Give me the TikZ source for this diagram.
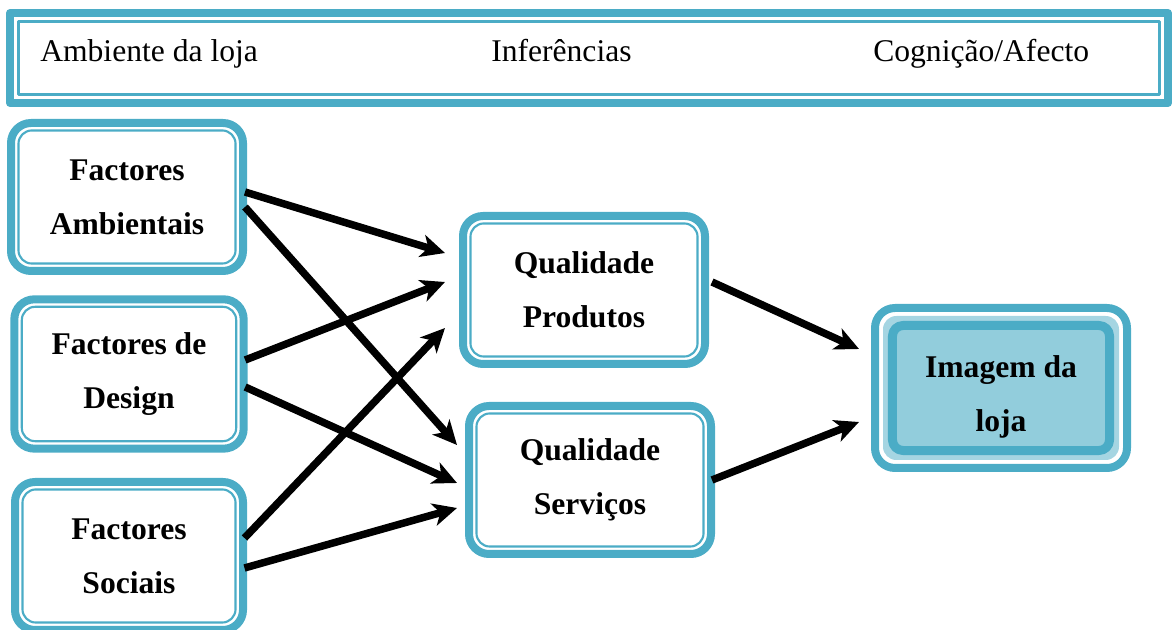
\documentclass[tikz,border=0pt]{standalone}
\usepackage{fontspec}
\setmainfont{Liberation Serif}
\usetikzlibrary{arrows.meta,calc}
\definecolor{frame}{RGB}{75,172,198}
\definecolor{lightfill}{RGB}{146,205,220}
\definecolor{ring}{RGB}{165,213,226}

\begin{document}
\begin{tikzpicture}[x=0.75pt,y=-0.75pt,join=round, % store image model
        box/.style={draw=frame,line width=6pt,rounded corners=15pt,outer sep=0pt,align=center,
                font=\fontsize{23.7}{40.5}\selectfont\bfseries,
                path picture={\draw[frame,line width=1.6pt,rounded corners=10pt]
                        ([shift={(5.6pt,5.6pt)}]path picture bounding box.south west) rectangle
                        ([shift={(-5.6pt,-5.6pt)}]path picture bounding box.north east);}},
        imbox/.style={box,
                path picture={\fill[ring,rounded corners=10pt]
                        ([shift={(6pt,6pt)}]path picture bounding box.south west) rectangle
                        ([shift={(-6pt,-6pt)}]path picture bounding box.north east);
                \draw[frame,fill=lightfill,line width=6.75pt,rounded corners=8pt]
                        ([shift={(13.1pt,13.1pt)}]path picture bounding box.south west) rectangle
                        ([shift={(-13.1pt,-13.1pt)}]path picture bounding box.north east);}},
        hdr/.style={draw=frame,line width=6pt,outer sep=0pt,
                path picture={\draw[frame,line width=2pt]
                        ([shift={(6.4pt,6.4pt)}]path picture bounding box.south west) rectangle
                        ([shift={(-6.4pt,-6.4pt)}]path picture bounding box.north east);}},
        head/.style={anchor=base west,inner sep=0pt,font=\fontsize{23.7}{28}\selectfont},
        arr/.style={line width=5.6pt,-{Stealth[length=18pt,width=17pt,inset=5pt]}}]
        \useasboundingbox (0,0) rectangle (1172,630);

        % header band
        \node[hdr,minimum width=868.5pt,minimum height=67.5pt] (top) at (589,58) {};
        \node[head] (ambiente) at (40,62) {Ambiente da loja};
        \node[head] (infer) at (491,62) {Inferências};
        \node[head] (cogn) at (873,62) {Cognição/Afecto};

        % factors
        \node[box,minimum width=174pt,minimum height=111pt] (fa) at (127,197) {Factores\\Ambientais};
        \node[box,minimum width=172pt,minimum height=112pt] (fd) at (129,374) {Factores de\\Design};
        \node[box,minimum width=171pt,minimum height=111pt] (fs) at (129,556) {Factores\\Sociais};
        \node[box,minimum width=181.5pt,minimum height=111pt] (qp) at (584,290) {Qualidade\\Produtos};
        \node[box,minimum width=181.5pt,minimum height=111pt] (qs) at (590,480) {Qualidade\\Serviços};
        \node[imbox,minimum width=189pt,minimum height=120pt] (im) at (1001,388) {};
        \node[align=center,font=\fontsize{23.7}{40.5}\selectfont\bfseries] (imtxt) at (1001,397) {Imagem da\\loja};

        % arrows
        \draw[arr] ($(fa.east)+(2,-5)$) -- ($(qp.west)+(-18,-37)$);
        \draw[arr] ($(fa.east)+(2,10)$) -- ($(qs.west)+(-12,-35)$);
        \draw[arr] ($(fd.east)+(1.5,-14)$) -- ($(qp.west)+(-18,-8)$);
        \draw[arr] ($(fd.east)+(1.5,13)$) -- ($(qs.west)+(-12,3)$);
        \draw[arr] ($(fs.east)+(1.5,-18)$) -- ($(qp.west)+(-18,38)$);
        \draw[arr] ($(fs.east)+(1.5,12)$) -- ($(qs.west)+(-12,28)$);
        \draw[arr] ($(qp.east)+(7,-8)$) -- ($(im.west)+(-16,-39)$);
        \draw[arr] ($(qs.east)+(1,0)$) -- ($(im.west)+(-16,34)$);
\end{tikzpicture}
\end{document}
